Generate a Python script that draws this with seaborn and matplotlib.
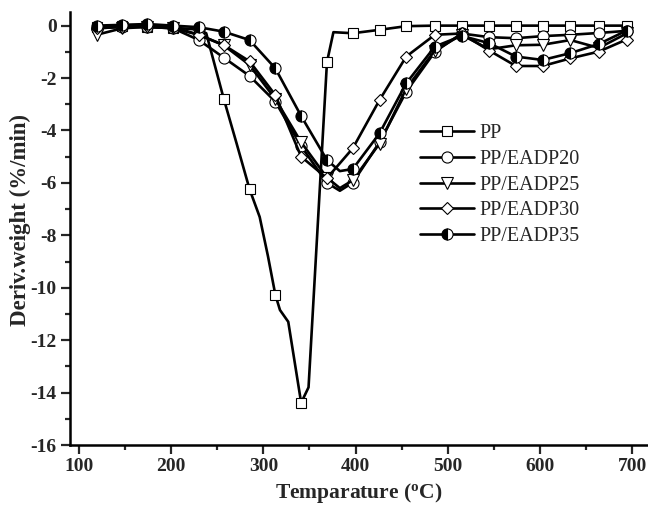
import numpy as np
import pandas as pd
import matplotlib
matplotlib.use("Agg")
import matplotlib.pyplot as plt
from matplotlib.lines import Line2D
from matplotlib.ticker import MultipleLocator
import seaborn as sns

# ---------------- data ----------------
marker_T = [119, 147, 174, 202, 230, 257, 285, 313, 341, 369, 397, 426,
            455, 486, 515, 545, 574, 603, 633, 664, 694]

pp_T = [119, 147, 174, 202, 230, 238, 257, 271, 285, 296, 305, 313, 318, 327,
        341, 349, 369, 376, 397, 426, 455, 486, 515, 545, 574, 603, 633, 664, 694]
pp_v = [-0.05, -0.03, -0.05, -0.08, -0.15, -0.29, -2.79, -4.5, -6.24, -7.3, -8.8,
        -10.27, -10.85, -11.3, -14.39, -13.8, -1.39, -0.25, -0.29, -0.16, -0.02,
        0.0, 0.0, 0.0, 0.0, 0.0, 0.0, 0.0, 0.0]

e20_T = [119, 147, 174, 202, 230, 257, 285, 313, 341, 369, 383, 397, 426,
         455, 486, 515, 545, 574, 603, 633, 664, 694]
e20_v = [-0.1, -0.05, -0.05, -0.1, -0.55, -1.22, -1.92, -2.9, -4.6, -6.0, -6.3,
         -5.99, -4.45, -2.52, -1.0, -0.3, -0.44, -0.48, -0.4, -0.35, -0.28, -0.2]

e25_T = [119, 147, 174, 202, 230, 257, 285, 313, 341, 369, 383, 397, 426,
         455, 486, 515, 545, 574, 603, 633, 664, 694]
e25_v = [-0.35, -0.1, -0.05, -0.1, -0.35, -0.75, -1.5, -2.8, -4.45, -5.8, -6.2,
         -5.9, -4.5, -2.4, -0.95, -0.35, -0.9, -0.75, -0.73, -0.55, -0.85, -0.3]

e30_T = [119, 147, 174, 202, 230, 257, 285, 313, 341, 369, 397, 426,
         455, 486, 515, 545, 574, 603, 633, 664, 694]
e30_v = [-0.1, -0.05, 0.0, -0.05, -0.35, -0.74, -1.36, -2.65, -5.0, -5.82, -4.68,
         -2.84, -1.18, -0.35, -0.3, -0.95, -1.54, -1.54, -1.25, -0.99, -0.53]

e35_T = [119, 147, 174, 202, 230, 257, 285, 313, 341, 369, 383, 397, 426,
         455, 486, 515, 545, 574, 603, 633, 664, 694]
e35_v = [0.0, 0.03, 0.06, 0.0, -0.06, -0.23, -0.55, -1.63, -3.45, -5.13, -5.55,
         -5.47, -4.11, -2.2, -0.8, -0.39, -0.67, -1.18, -1.31, -1.05, -0.7, -0.19]

labels = ["PP", "PP/EADP20", "PP/EADP25", "PP/EADP30", "PP/EADP35"]
x_ticks = [100, 200, 300, 400, 500, 600, 700]
y_ticks = [0, -2, -4, -6, -8, -10, -12, -14, -16]

# ---------------- style ----------------
sns.set_style("ticks")
plt.rcParams["font.family"] = ["Liberation Serif", "DejaVu Serif"]
plt.rcParams["axes.unicode_minus"] = False
plt.rcParams["mathtext.fontset"] = "custom"
plt.rcParams["mathtext.rm"] = "Liberation Serif:bold"
plt.rcParams["mathtext.bf"] = "Liberation Serif:bold"
plt.rcParams["mathtext.it"] = "Liberation Serif:bold"

fig = plt.figure(figsize=(6.48, 5.07), dpi=100)
ax = fig.add_axes([70 / 648, 62 / 507, 578 / 648, 433 / 507])

series = [
    (pp_T, pp_v, dict(marker="s", ms=7, mfc="white", mec="k", mew=0.8)),
    (e20_T, e20_v, dict(marker="o", ms=8, mfc="white", mec="k", mew=0.8)),
    (e25_T, e25_v, dict(marker="v", ms=8.5, mfc="white", mec="k", mew=0.8)),
    (e30_T, e30_v, dict(marker="D", ms=6.5, mfc="white", mec="k", mew=0.8)),
    (e35_T, e35_v, dict(marker="o", ms=8, mfc="k", mfcalt="white", fillstyle="left",
                        mec="k", mew=0.8)),
]

handles = []
for (T, v, mk), lab in zip(series, labels):
    idx = [i for i, t in enumerate(T) if t in marker_T]
    df = pd.DataFrame({"T": T, "v": v})
    sns.lineplot(data=df, x="T", y="v", ax=ax, color="k", lw=1.9, sort=False,
                 estimator=None, markevery=idx, **mk)
    handles.append(Line2D([], [], color="k", lw=1.9, **mk))

ax.set_xlim(90.2, 717.3)
ax.set_ylim(-16, 0.52)
ax.set_xticks(x_ticks)
ax.set_yticks(y_ticks)
ax.xaxis.set_minor_locator(MultipleLocator(50))
ax.yaxis.set_minor_locator(MultipleLocator(1))
ax.tick_params(which="major", direction="out", length=6.5, width=1.6,
               labelsize=14, pad=3)
ax.tick_params(which="minor", direction="out", length=3.5, width=1.6)
for lbl in ax.get_xticklabels() + ax.get_yticklabels():
    lbl.set_fontweight("bold")

for s in ["top", "right"]:
    ax.spines[s].set_visible(False)
for s in ["left", "bottom"]:
    ax.spines[s].set_linewidth(1.8)
    ax.spines[s].set_color("k")

ax.set_xlabel(r"Temparature ($^{\mathrm{o}}$C)", fontsize=15.5, fontweight="bold",
              labelpad=4)
ax.set_ylabel("Deriv.weight (%/min)", fontsize=16.5, fontweight="bold")
ax.yaxis.set_label_coords(-0.068, 0.52)

leg = ax.legend(handles, labels, loc="upper left",
                bbox_to_anchor=(420 / 648, 383 / 507), bbox_transform=fig.transFigure,
                frameon=False, fontsize=14.5, handlelength=2.7, handletextpad=0.25,
                labelspacing=0.33, borderpad=0, borderaxespad=0)

fig.savefig("out.png", dpi=100)
